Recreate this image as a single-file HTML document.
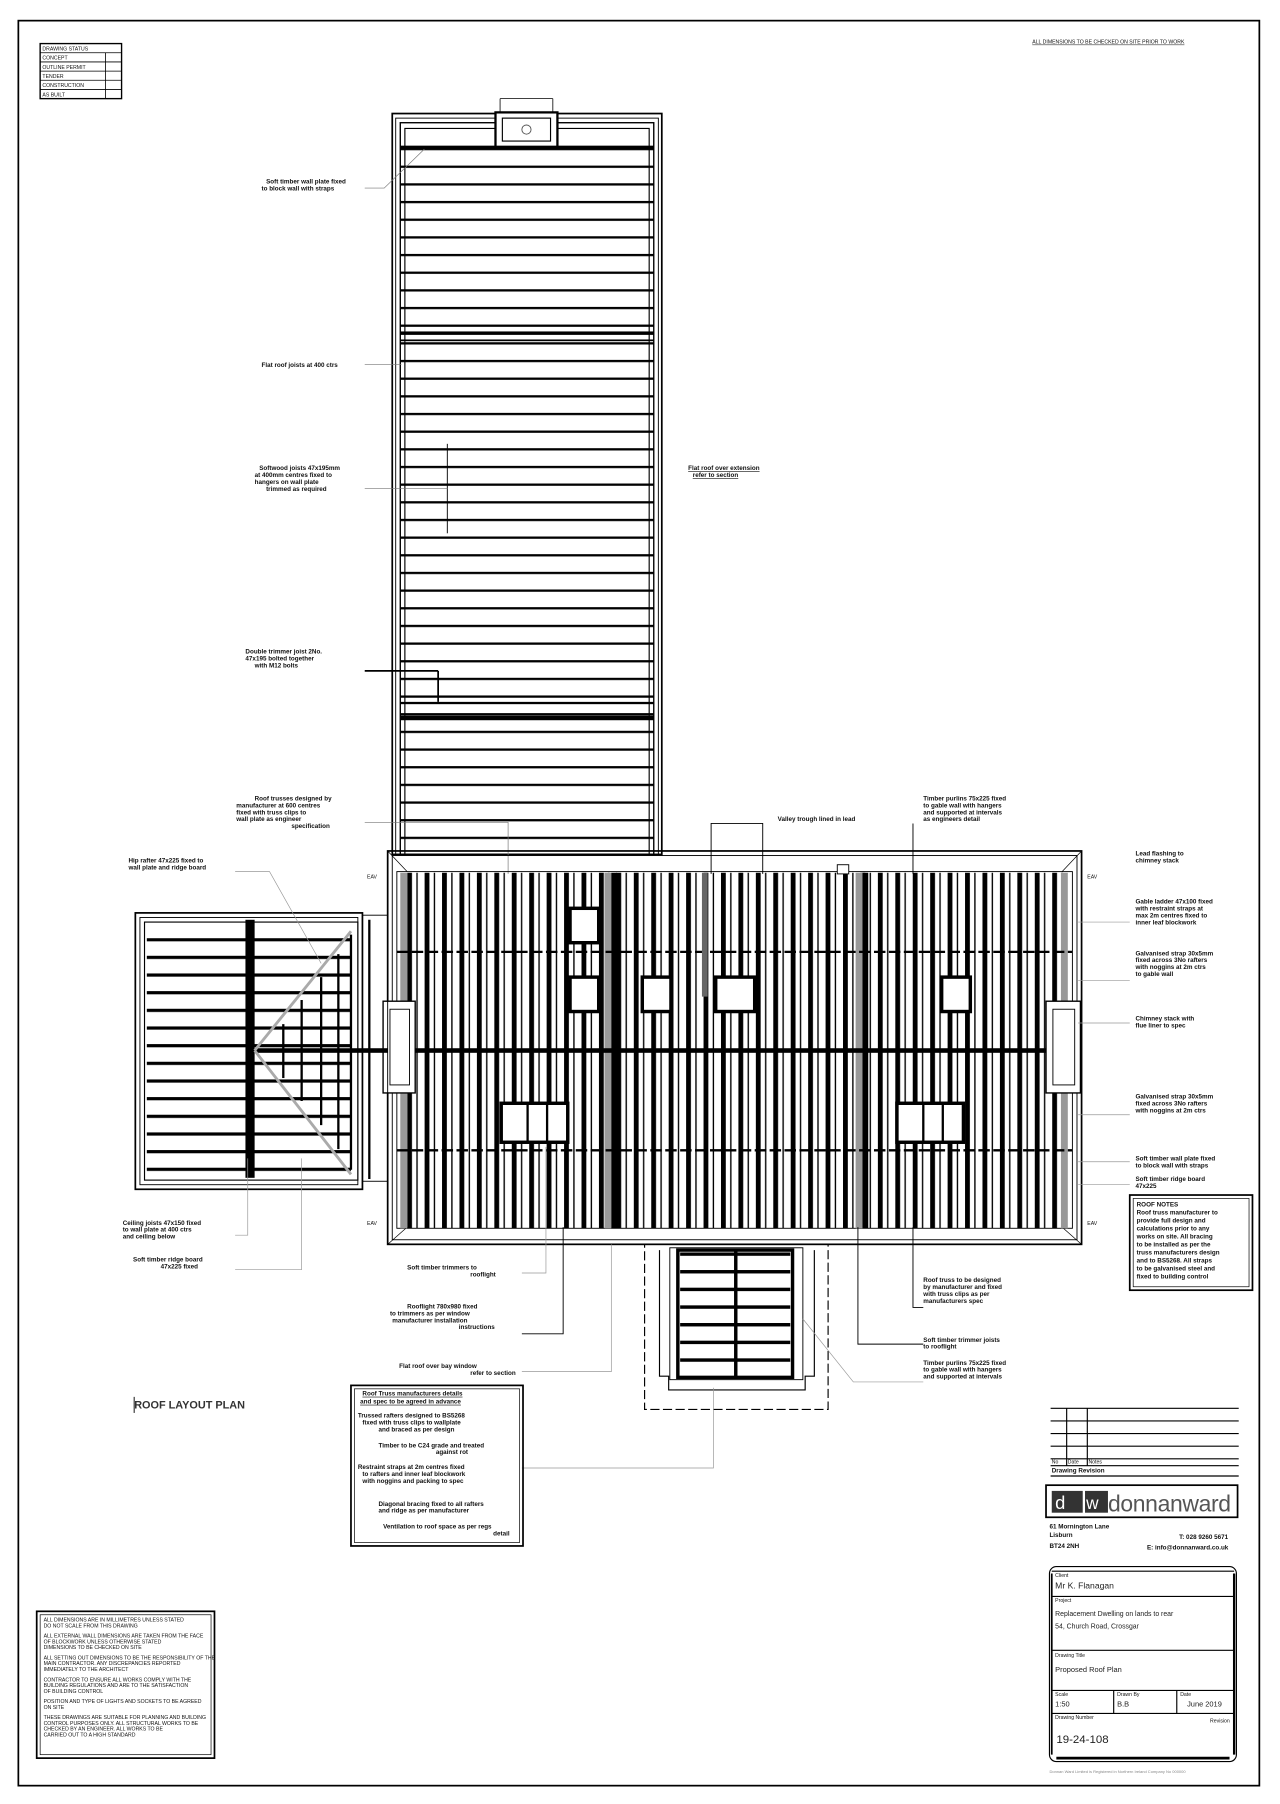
<!DOCTYPE html>
<html><head><meta charset="utf-8"><style>
html,body{margin:0;padding:0;background:#fff;}
svg{display:block;}
text{font-family:"Liberation Sans",sans-serif;fill:#111;}
.l{font-size:5.5px;font-weight:bold;}
.s{font-size:4.5px;}
</style></head><body>
<svg width="1280" height="1804" viewBox="0 0 1116 1573" preserveAspectRatio="none" xmlns="http://www.w3.org/2000/svg">
<defs>
<pattern id="hj" x="0" y="129" width="10" height="15.4" patternUnits="userSpaceOnUse"><rect x="0" y="0" width="10" height="2" fill="#000"/></pattern>
<pattern id="vr" x="355" y="0" width="15.2" height="10" patternUnits="userSpaceOnUse"><rect x="0" y="0" width="4.2" height="10" fill="#000"/><rect x="8" y="0" width="1.2" height="10" fill="#000"/></pattern>
<pattern id="wj" x="0" y="818" width="10" height="15.4" patternUnits="userSpaceOnUse"><rect x="0" y="0" width="10" height="2.8" fill="#000"/></pattern>
<pattern id="bj" x="0" y="1092" width="10" height="15.4" patternUnits="userSpaceOnUse"><rect x="0" y="0" width="10" height="3" fill="#000"/></pattern>
</defs>
<rect x="0" y="0" width="1116" height="1573" fill="#fff"/>
<rect x="16" y="18" width="1082" height="1539" fill="none" stroke="#000" stroke-width="1.5"/>
<rect x="35" y="38" width="71" height="48" fill="none" stroke="#000" stroke-width="1.2"/>
<g stroke="#000" stroke-width="0.7"><line x1="35" y1="46" x2="106" y2="46"/><line x1="35" y1="54" x2="106" y2="54"/><line x1="35" y1="62" x2="106" y2="62"/><line x1="35" y1="70" x2="106" y2="70"/><line x1="35" y1="78" x2="106" y2="78"/><line x1="92" y1="46" x2="92" y2="86"/></g>
<text class="s" x="37" y="44">DRAWING STATUS</text><text class="s" x="37" y="52">CONCEPT</text><text class="s" x="37" y="60">OUTLINE PERMIT</text><text class="s" x="37" y="68">TENDER</text><text class="s" x="37" y="76">CONSTRUCTION</text><text class="s" x="37" y="84">AS BUILT</text>
<text class="s" x="900" y="38" style="text-decoration:underline">ALL DIMENSIONS TO BE CHECKED ON SITE PRIOR TO WORK</text>

<rect x="342" y="99" width="235" height="646" fill="none" stroke="#000" stroke-width="1.5"/>
<rect x="345" y="103" width="229" height="642" fill="none" stroke="#000" stroke-width="0.8"/>
<rect x="349" y="107" width="221" height="638" fill="none" stroke="#000" stroke-width="1.2"/>
<rect x="353" y="112" width="213" height="633" fill="none" stroke="#000" stroke-width="1"/>
<rect x="349" y="129" width="221" height="612" fill="url(#hj)"/>
<rect x="349" y="127" width="221" height="3" fill="#000"/>
<rect x="349" y="289" width="221" height="3" fill="#000"/>
<rect x="349" y="296" width="221" height="1.5" fill="#000"/>
<rect x="349" y="612" width="221" height="2" fill="#000"/>
<rect x="349" y="624" width="221" height="4" fill="#000"/>
<rect x="432" y="98" width="54" height="30" fill="#fff" stroke="#000" stroke-width="2"/>
<rect x="438" y="103" width="42" height="20" fill="#fff" stroke="#000" stroke-width="1"/>
<circle cx="459" cy="113" r="4" fill="none" stroke="#555" stroke-width="0.8"/>
<line x1="436" y1="86" x2="482" y2="86" stroke="#000" stroke-width="0.7"/>
<line x1="436" y1="86" x2="436" y2="98" stroke="#000" stroke-width="0.7"/><line x1="482" y1="86" x2="482" y2="98" stroke="#000" stroke-width="0.7"/>
<line x1="390" y1="387" x2="390" y2="465" stroke="#000" stroke-width="0.8"/>
<line x1="318" y1="585" x2="382" y2="585" stroke="#000" stroke-width="1.5"/><line x1="382" y1="585" x2="382" y2="612" stroke="#000" stroke-width="1.5"/>

<g stroke="#777" stroke-width="0.6" fill="none"><path d="M318,164 L335,164 L370,130"/><path d="M318,318 L350,318"/><path d="M318,426 L390,426"/><path d="M318,717 L443,717 L443,762"/></g>
<text class="l" x="232" y="160">Soft timber wall plate fixed</text><text class="l" x="228" y="166">to block wall with straps</text>
<text class="l" x="228" y="320">Flat roof joists at 400 ctrs</text>
<text class="l" x="226" y="410">Softwood joists 47x195mm</text><text class="l" x="222" y="416">at 400mm centres fixed to</text><text class="l" x="222" y="422">hangers on wall plate</text><text class="l" x="232" y="428">trimmed as required</text>
<text class="l" x="214" y="570">Double trimmer joist 2No.</text><text class="l" x="214" y="576">47x195 bolted together</text><text class="l" x="222" y="582">with M12 bolts</text>
<text class="l" x="222" y="698">Roof trusses designed by</text><text class="l" x="206" y="704">manufacturer at 600 centres</text><text class="l" x="206" y="710">fixed with truss clips to</text><text class="l" x="206" y="716">wall plate as engineer</text><text class="l" x="254" y="722">specification</text>
<text class="l" x="600" y="410" style="text-decoration:underline">Flat roof over extension</text><text class="l" x="604" y="416" style="text-decoration:underline">refer to section</text>

<rect x="338" y="742" width="605" height="343" fill="none" stroke="#000" stroke-width="1.5"/>
<rect x="342" y="746" width="597" height="335" fill="none" stroke="#000" stroke-width="0.8"/>
<line x1="338" y1="742" x2="355" y2="760" stroke="#000" stroke-width="0.6"/><line x1="943" y1="742" x2="926" y2="760" stroke="#000" stroke-width="0.6"/>
<line x1="338" y1="1085" x2="355" y2="1070" stroke="#000" stroke-width="0.6"/><line x1="943" y1="1085" x2="926" y2="1070" stroke="#000" stroke-width="0.6"/>
<rect x="346" y="760" width="589" height="311" fill="none" stroke="#000" stroke-width="0.8"/>
<rect x="355" y="761" width="575" height="310" fill="url(#vr)"/>
<rect x="349" y="761" width="6" height="310" fill="#999"/>
<rect x="925" y="761" width="6" height="310" fill="#999"/>
<rect x="527" y="761" width="6" height="310" fill="#999"/><rect x="533" y="761" width="5" height="310" fill="#000"/>
<rect x="746" y="761" width="6" height="310" fill="#999"/><rect x="752" y="761" width="5" height="310" fill="#000"/>
<rect x="346" y="914" width="589" height="4" fill="#000"/>
<line x1="346" y1="830" x2="935" y2="830" stroke="#000" stroke-width="2" stroke-dasharray="10,3"/>
<line x1="346" y1="1003" x2="935" y2="1003" stroke="#000" stroke-width="2" stroke-dasharray="10,3"/>
<g fill="#fff" stroke="#000" stroke-width="3">
<rect x="497" y="792" width="25" height="30"/><rect x="497" y="852" width="25" height="30"/>
<rect x="560" y="852" width="25" height="30"/><rect x="624" y="852" width="34" height="30"/>
<rect x="821" y="852" width="25" height="30"/>
<rect x="437" y="962" width="58" height="34"/><rect x="782" y="962" width="58" height="34"/>
</g>
<g stroke="#000" stroke-width="2"><line x1="460" y1="962" x2="460" y2="996"/><line x1="477" y1="962" x2="477" y2="996"/><line x1="805" y1="962" x2="805" y2="996"/><line x1="822" y1="962" x2="822" y2="996"/></g>
<rect x="612" y="761" width="5" height="108" fill="#666"/>
<rect x="334" y="873" width="28" height="80" fill="#fff" stroke="#000" stroke-width="1.2"/><rect x="340" y="880" width="17" height="66" fill="#fff" stroke="#000" stroke-width="0.8"/>
<rect x="912" y="873" width="30" height="80" fill="#fff" stroke="#000" stroke-width="1.2"/><rect x="918" y="880" width="19" height="66" fill="#fff" stroke="#000" stroke-width="0.8"/>
<rect x="730" y="754" width="10" height="8" fill="#fff" stroke="#000" stroke-width="0.8"/>

<rect x="118" y="796" width="198" height="241" fill="none" stroke="#000" stroke-width="1.5"/>
<rect x="122" y="800" width="190" height="233" fill="none" stroke="#000" stroke-width="0.8"/>
<rect x="126" y="804" width="186" height="225" fill="none" stroke="#000" stroke-width="1"/>
<rect x="316" y="798" width="22" height="232" fill="none" stroke="#000" stroke-width="0.8"/>
<rect x="128" y="818" width="178" height="204" fill="url(#wj)"/>
<rect x="214" y="802" width="8" height="225" fill="#000"/>
<rect x="222" y="914" width="116" height="4" fill="#000"/>
<g stroke="#aaa" stroke-width="2.5"><line x1="306" y1="812" x2="222" y2="916"/><line x1="222" y1="916" x2="306" y2="1024"/></g>
<g stroke="#000" stroke-width="2"><line x1="247" y1="893" x2="247" y2="940"/><line x1="263" y1="872" x2="263" y2="960"/><line x1="280" y1="852" x2="280" y2="981"/><line x1="295" y1="832" x2="295" y2="1002"/><line x1="306" y1="815" x2="306" y2="1020"/><line x1="322" y1="802" x2="322" y2="1028"/></g>

<rect x="562" y="1085" width="160" height="144" fill="none" stroke="#000" stroke-width="1" stroke-dasharray="8,3"/>
<path d="M575,1090 L575,1200 L583,1200 L583,1212 L702,1212 L702,1200 L710,1200 L710,1090" fill="none" stroke="#000" stroke-width="1"/>
<rect x="584" y="1088" width="116" height="115" fill="none" stroke="#000" stroke-width="0.8"/>
<rect x="591" y="1090" width="100" height="111" fill="none" stroke="#000" stroke-width="3"/>
<rect x="593" y="1092" width="96" height="107" fill="url(#bj)"/>
<rect x="640" y="1090" width="3" height="111" fill="#000"/>

<g stroke="#000" stroke-width="0.8" fill="none">
<path d="M620,762 L620,718 L665,718 L665,762"/><path d="M796,762 L796,718"/>
<path d="M491,1070 L491,1163 L455,1163"/><path d="M748,1070 L748,1172 L805,1172"/><path d="M796,1070 L796,1140 L805,1140"/>
</g>
<g stroke="#999" stroke-width="0.6" fill="none">
<path d="M205,760 L235,760 L280,840"/><path d="M205,1077 L216,1077 L216,1010"/><path d="M205,1107 L263,1107 L263,1010"/>
<path d="M455,1110 L476,1110 L476,1000"/><path d="M455,1196 L533,1196 L533,1085"/><path d="M455,1280 L622,1280 L622,1210"/>
<path d="M805,1205 L744,1205 L700,1150"/>
<path d="M985,804 L940,804"/><path d="M985,855 L940,855"/><path d="M985,892 L940,892"/><path d="M985,972 L940,972"/><path d="M985,1013 L940,1013"/><path d="M985,1033 L940,1033"/>
</g>
<text class="s" x="320" y="766">EAV</text><text class="s" x="320" y="1068">EAV</text><text class="s" x="948" y="766">EAV</text><text class="s" x="948" y="1068">EAV</text>
<text class="l" x="678" y="716">Valley trough lined in lead</text>
<text class="l" x="805" y="698">Timber purlins 75x225 fixed</text><text class="l" x="805" y="704">to gable wall with hangers</text><text class="l" x="805" y="710">and supported at intervals</text><text class="l" x="805" y="716">as engineers detail</text>
<text class="l" x="112" y="752">Hip rafter 47x225 fixed to</text><text class="l" x="112" y="758">wall plate and ridge board</text>
<text class="l" x="990" y="746">Lead flashing to</text><text class="l" x="990" y="752">chimney stack</text>
<text class="l" x="990" y="788">Gable ladder 47x100 fixed</text><text class="l" x="990" y="794">with restraint straps at</text><text class="l" x="990" y="800">max 2m centres fixed to</text><text class="l" x="990" y="806">inner leaf blockwork</text>
<text class="l" x="990" y="833">Galvanised strap 30x5mm</text><text class="l" x="990" y="839">fixed across 3No rafters</text><text class="l" x="990" y="845">with noggins at 2m ctrs</text><text class="l" x="990" y="851">to gable wall</text>
<text class="l" x="990" y="890">Chimney stack with</text><text class="l" x="990" y="896">flue liner to spec</text>
<text class="l" x="990" y="958">Galvanised strap 30x5mm</text><text class="l" x="990" y="964">fixed across 3No rafters</text><text class="l" x="990" y="970">with noggins at 2m ctrs</text>
<text class="l" x="990" y="1012">Soft timber wall plate fixed</text><text class="l" x="990" y="1018">to block wall with straps</text>
<text class="l" x="990" y="1030">Soft timber ridge board</text><text class="l" x="990" y="1036">47x225</text>
<text class="l" x="107" y="1068">Ceiling joists 47x150 fixed</text><text class="l" x="107" y="1074">to wall plate at 400 ctrs</text><text class="l" x="107" y="1080">and ceiling below</text>
<text class="l" x="116" y="1100">Soft timber ridge board</text><text class="l" x="140" y="1106">47x225 fixed</text>
<text class="l" x="355" y="1107">Soft timber trimmers to</text><text class="l" x="410" y="1113">rooflight</text>
<text class="l" x="355" y="1141">Rooflight 780x980 fixed</text><text class="l" x="340" y="1147">to trimmers as per window</text><text class="l" x="342" y="1153">manufacturer installation</text><text class="l" x="400" y="1159">instructions</text>
<text class="l" x="348" y="1193">Flat roof over bay window</text><text class="l" x="410" y="1199">refer to section</text>
<text class="l" x="805" y="1118">Roof truss to be designed</text><text class="l" x="805" y="1124">by manufacturer and fixed</text><text class="l" x="805" y="1130">with truss clips as per</text><text class="l" x="805" y="1136">manufacturers spec</text>
<text class="l" x="805" y="1170">Soft timber trimmer joists</text><text class="l" x="805" y="1176">to rooflight</text>
<text class="l" x="805" y="1190">Timber purlins 75x225 fixed</text><text class="l" x="805" y="1196">to gable wall with hangers</text><text class="l" x="805" y="1202">and supported at intervals</text>

<rect x="985" y="1042" width="107" height="83" fill="none" stroke="#000" stroke-width="1.5"/>
<rect x="988" y="1045" width="101" height="77" fill="none" stroke="#000" stroke-width="0.6"/>
<text class="l" x="991" y="1052">ROOF NOTES</text>
<text class="l" x="991" y="1059">Roof truss manufacturer to</text><text class="l" x="991" y="1066">provide full design and</text><text class="l" x="991" y="1073">calculations prior to any</text><text class="l" x="991" y="1080">works on site. All bracing</text><text class="l" x="991" y="1087">to be installed as per the</text><text class="l" x="991" y="1094">truss manufacturers design</text><text class="l" x="991" y="1101">and to BS5268. All straps</text><text class="l" x="991" y="1108">to be galvanised steel and</text><text class="l" x="991" y="1115">fixed to building control</text>

<text x="117" y="1228" style="font-size:9.5px;font-weight:bold;fill:#333">ROOF LAYOUT PLAN</text>
<line x1="117" y1="1218" x2="117" y2="1232" stroke="#333" stroke-width="1"/>

<rect x="306" y="1208" width="150" height="140" fill="none" stroke="#000" stroke-width="1.5"/>
<rect x="309" y="1211" width="144" height="134" fill="none" stroke="#000" stroke-width="0.6"/>
<text class="l" x="316" y="1217" style="text-decoration:underline">Roof Truss manufacturers details</text><text class="l" x="314" y="1224" style="text-decoration:underline">and spec to be agreed in advance</text>
<text class="l" x="312" y="1236">Trussed rafters designed to BS5268</text><text class="l" x="316" y="1242">fixed with truss clips to wallplate</text><text class="l" x="330" y="1248">and braced as per design</text>
<text class="l" x="330" y="1262">Timber to be C24 grade and treated</text><text class="l" x="380" y="1268">against rot</text>
<text class="l" x="312" y="1281">Restraint straps at 2m centres fixed</text><text class="l" x="316" y="1287">to rafters and inner leaf blockwork</text><text class="l" x="316" y="1293">with noggins and packing to spec</text>
<text class="l" x="330" y="1313">Diagonal bracing fixed to all rafters</text><text class="l" x="330" y="1319">and ridge as per manufacturer</text>
<text class="l" x="334" y="1333">Ventilation to roof space as per regs</text><text class="l" x="430" y="1339">detail</text>

<rect x="32" y="1405" width="155" height="128" fill="none" stroke="#000" stroke-width="1.5"/>
<rect x="35" y="1408" width="149" height="122" fill="none" stroke="#000" stroke-width="0.6"/>
<text class="s" x="38" y="1414">ALL DIMENSIONS ARE IN MILLIMETRES UNLESS STATED</text><text class="s" x="38" y="1419">DO NOT SCALE FROM THIS DRAWING</text>
<text class="s" x="38" y="1428">ALL EXTERNAL WALL DIMENSIONS ARE TAKEN FROM THE FACE</text><text class="s" x="38" y="1433">OF BLOCKWORK UNLESS OTHERWISE STATED</text><text class="s" x="38" y="1438">DIMENSIONS TO BE CHECKED ON SITE</text>
<text class="s" x="38" y="1447">ALL SETTING OUT DIMENSIONS TO BE THE RESPONSIBILITY OF THE</text><text class="s" x="38" y="1452">MAIN CONTRACTOR. ANY DISCREPANCIES REPORTED</text><text class="s" x="38" y="1457">IMMEDIATELY TO THE ARCHITECT</text>
<text class="s" x="38" y="1466">CONTRACTOR TO ENSURE ALL WORKS COMPLY WITH THE</text><text class="s" x="38" y="1471">BUILDING REGULATIONS AND ARE TO THE SATISFACTION</text><text class="s" x="38" y="1476">OF BUILDING CONTROL</text>
<text class="s" x="38" y="1485">POSITION AND TYPE OF LIGHTS AND SOCKETS TO BE AGREED</text><text class="s" x="38" y="1490">ON SITE</text>
<text class="s" x="38" y="1499">THESE DRAWINGS ARE SUITABLE FOR PLANNING AND BUILDING</text><text class="s" x="38" y="1504">CONTROL PURPOSES ONLY. ALL STRUCTURAL WORKS TO BE</text><text class="s" x="38" y="1509">CHECKED BY AN ENGINEER. ALL WORKS TO BE</text><text class="s" x="38" y="1514">CARRIED OUT TO A HIGH STANDARD</text>

<g stroke="#000" stroke-width="1">
<line x1="916" y1="1228" x2="1080" y2="1228"/><line x1="916" y1="1239" x2="1080" y2="1239"/><line x1="916" y1="1250" x2="1080" y2="1250"/><line x1="916" y1="1261" x2="1080" y2="1261"/><line x1="916" y1="1272" x2="1080" y2="1272"/><line x1="916" y1="1278" x2="1080" y2="1278"/><line x1="916" y1="1287" x2="1080" y2="1287"/>
<line x1="930" y1="1228" x2="930" y2="1278"/><line x1="948" y1="1228" x2="948" y2="1278"/>
</g>
<text class="s" x="917" y="1276">No</text><text class="s" x="931" y="1276">Date</text><text class="s" x="949" y="1276">Notes</text>
<text class="l" x="917" y="1284">Drawing Revision</text>
<rect x="912" y="1295" width="167" height="28" fill="none" stroke="#000" stroke-width="1.5"/>
<rect x="917" y="1300" width="27" height="19" fill="#333"/><rect x="946" y="1300" width="20" height="19" fill="#333"/>
<text x="920" y="1316" style="font-size:16px;fill:#fff">d</text><text x="947" y="1316" style="font-size:15px;fill:#fff">w</text>
<text x="966" y="1318" style="font-size:20px;fill:#555;letter-spacing:-0.3px">donnanward</text>
<text class="l" x="915" y="1333">61 Mornington Lane</text><text class="l" x="915" y="1340">Lisburn</text><text class="l" x="915" y="1350">BT24 2NH</text>
<text class="l" x="1028" y="1342">T: 028 9260 5671</text><text class="l" x="1000" y="1351">E: info@donnanward.co.uk</text>

<!-- title block -->
<rect x="915" y="1366" width="163" height="170" rx="6" fill="none" stroke="#000" stroke-width="1"/>
<line x1="1076" y1="1372" x2="1076" y2="1530" stroke="#000" stroke-width="2"/>
<line x1="921" y1="1533" x2="1072" y2="1533" stroke="#000" stroke-width="2.5"/>
<line x1="917" y1="1372" x2="917" y2="1530" stroke="#000" stroke-width="1.5"/>
<g stroke="#000" stroke-width="1">
<line x1="917" y1="1370" x2="1076" y2="1370"/>
<line x1="917" y1="1392" x2="1076" y2="1392"/>
<line x1="917" y1="1439" x2="1076" y2="1439"/>
<line x1="917" y1="1474" x2="1076" y2="1474"/>
<line x1="917" y1="1494" x2="1076" y2="1494"/>
<line x1="971" y1="1474" x2="971" y2="1494"/>
<line x1="1026" y1="1474" x2="1026" y2="1494"/>
</g>
<text class="s" x="920" y="1375">Client</text>
<text x="920" y="1385" style="font-size:7.5px;fill:#222">Mr K. Flanagan</text>
<text class="s" x="920" y="1397">Project</text>
<text x="920" y="1409" style="font-size:6px;fill:#222">Replacement Dwelling on lands to rear</text>
<text x="920" y="1420" style="font-size:6px;fill:#222">54, Church Road, Crossgar</text>
<text class="s" x="920" y="1445">Drawing Title</text>
<text x="920" y="1458" style="font-size:6.5px;fill:#222">Proposed Roof Plan</text>
<text class="s" x="920" y="1479">Scale</text><text x="920" y="1488" style="font-size:6.5px;fill:#222">1:50</text>
<text class="s" x="974" y="1479">Drawn By</text><text x="974" y="1488" style="font-size:6.5px;fill:#222">B.B</text>
<text class="s" x="1029" y="1479">Date</text><text x="1035" y="1488" style="font-size:6.5px;fill:#222">June 2019</text>
<text class="s" x="920" y="1499">Drawing Number</text><text class="s" x="1055" y="1502">Revision</text>
<text x="921" y="1520" style="font-size:10px;fill:#222">19-24-108</text>
<text x="915" y="1546" style="font-size:3.5px;fill:#888">Donnan Ward Limited is Registered in Northern Ireland Company No 000000</text>
</svg>
</body></html>
